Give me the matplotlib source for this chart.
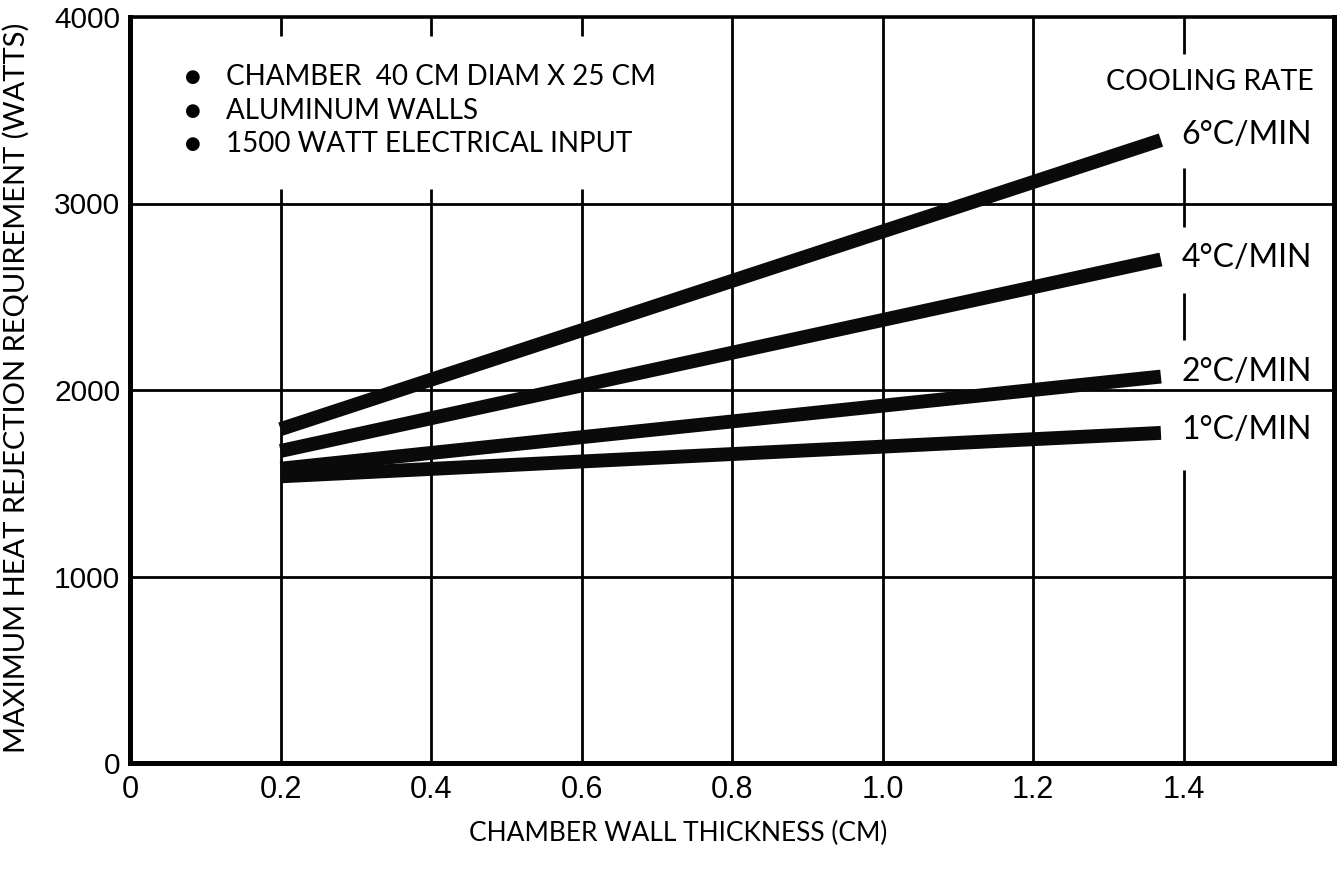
import matplotlib
matplotlib.use("Agg")
import matplotlib.pyplot as plt

# ---------------- data ----------------
thickness = [0.2, 1.37]                 # chamber wall thickness (cm)
rate_6 = [1790, 3340]                   # 6 °C/min
rate_4 = [1673, 2700]                   # 4 °C/min
rate_2 = [1578, 2072]                   # 2 °C/min
rate_1 = [1537, 1770]                   # 1 °C/min
series = [rate_6, rate_4, rate_2, rate_1]
series_labels = ["6°C/MIN", "4°C/MIN", "2°C/MIN", "1°C/MIN"]
label_y = [3367, 2708, 2097, 1786]

x_ticks = [0, 0.2, 0.4, 0.6, 0.8, 1.0, 1.2, 1.4]
x_ticklabels = ["0", "0.2", "0.4", "0.6", "0.8", "1.0", "1.2", "1.4"]
y_ticks = [0, 1000, 2000, 3000, 4000]
y_ticklabels = ["0", "1000", "2000", "3000", "4000"]

notes = ["CHAMBER  40 CM DIAM X 25 CM", "ALUMINUM WALLS", "1500 WATT ELECTRICAL INPUT"]
notes_y = [3678, 3496, 3319]

# grid styling: visible segments of the vertical rules (paper chart has gaps)
vgrid_segments = {
    0.2: [(0, 3080), (3900, 4000)],
    0.4: [(0, 3080), (3900, 4000)],
    0.6: [(0, 3080), (3900, 4000)],
    0.8: [(0, 4000)],
    1.0: [(0, 4000)],
    1.2: [(0, 4000)],
    1.4: [(0, 1571), (2268, 2520), (2874, 3190), (3800, 4000)],
}
hgrid = [1000, 2000, 3000]

TEXT_FONT = ["Lato", "DejaVu Sans"]
TICK_FONT = ["Liberation Sans", "DejaVu Sans"]

fig = plt.figure(figsize=(13.39, 8.75), dpi=100)
ax = fig.add_axes([130 / 1339, 1 - 763 / 875, 1204 / 1339, 746 / 875])
ax.set_xlim(0, 1.6)
ax.set_ylim(0, 4000)

# grid
for yv in hgrid:
    ax.axhline(yv, color="black", lw=2.0, zorder=1)
for xv, segs in vgrid_segments.items():
    for y0, y1 in segs:
        ax.vlines(xv, y0, y1, color="black", lw=2.0, zorder=1)

# curves
for vals in series:
    ax.plot(thickness, vals, color="#0a0a0a", lw=10, solid_capstyle="butt", zorder=3)

# curve labels
ax.text(1.573, 3651, "COOLING RATE", ha="right", va="center",
        fontsize=20.5, family=TEXT_FONT, zorder=4)
for lab, yv in zip(series_labels, label_y):
    ax.text(1.397, yv, lab, ha="left", va="center", fontsize=23,
            family=TEXT_FONT, zorder=4)

# notes
for t, yv in zip(notes, notes_y):
    ax.text(0.084, yv, "\u25CF", ha="center", va="center", fontsize=13,
            family=["DejaVu Sans"], zorder=4)
    ax.text(0.127, yv, t, ha="left", va="center", fontsize=20,
            family=TEXT_FONT, zorder=4)

# ticks
ax.set_xticks(x_ticks)
ax.set_xticklabels(x_ticklabels, family=TICK_FONT, fontsize=22)
ax.set_yticks(y_ticks)
ax.set_yticklabels(y_ticklabels, family=TICK_FONT, fontsize=21.5)
ax.tick_params(axis="both", length=0)
ax.tick_params(axis="x", pad=9)
ax.tick_params(axis="y", pad=7)

for side in ["left", "bottom", "right"]:
    ax.spines[side].set_linewidth(3.6)
ax.spines["top"].set_linewidth(2.6)

# axis titles
fig.text(16 / 1339, 1 - 388 / 875, "MAXIMUM HEAT REJECTION REQUIREMENT (WATTS)",
         rotation=90, ha="center", va="center", fontsize=21, family=TEXT_FONT)
fig.text(678 / 1339, 1 - 833 / 875, "CHAMBER WALL THICKNESS (CM)",
         ha="center", va="center", fontsize=19, family=TEXT_FONT)

fig.savefig("out.png", dpi=100, facecolor="white")
